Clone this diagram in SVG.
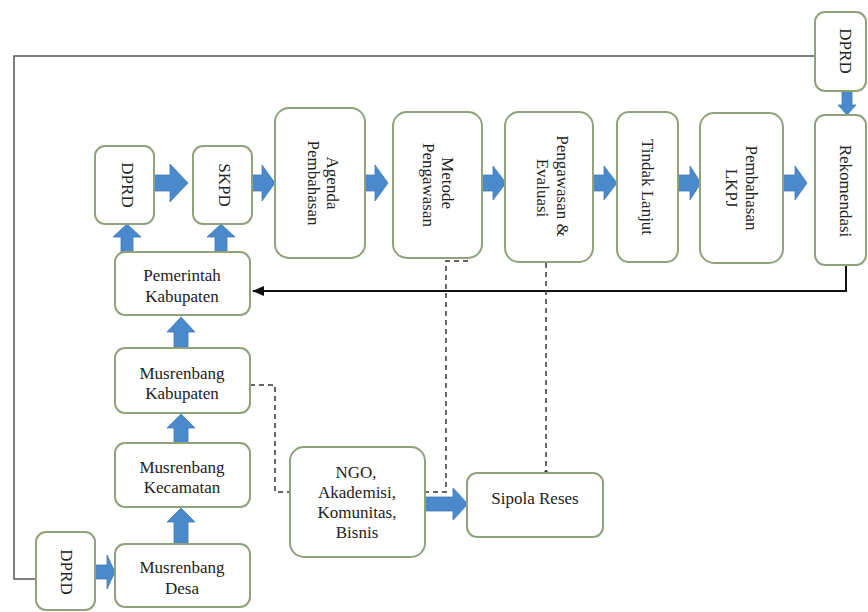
<svg xmlns="http://www.w3.org/2000/svg" width="868" height="612" viewBox="0 0 868 612">
<style>
.box{fill:#fff;stroke:#8fa37a;stroke-width:2}
.t{font-family:"Liberation Serif","Times New Roman",serif;font-size:17px;fill:#222;text-anchor:middle}
.v{dominant-baseline:central}
.ba{fill:#4a89cb;stroke:#3f7bbb;stroke-width:0.8}
.ln{fill:none;stroke:#555;stroke-width:1.5}
.fb{fill:none;stroke:#111;stroke-width:2}
.ds{fill:none;stroke:#333;stroke-width:1.5;stroke-dasharray:5 4}
</style>
<defs>
<marker id="ah" markerWidth="12" markerHeight="10" refX="11" refY="5" orient="auto" markerUnits="userSpaceOnUse">
<path d="M0,0 L12,5 L0,10 Z" fill="#111"/>
</marker>
</defs>
<rect width="868" height="612" fill="#fff"/>

<g id="connectors">
<path class="ln" d="M36 579 H14 V56 H815"/>
<path class="fb" d="M846 265 V291 H253" marker-end="url(#ah)"/>
<path class="ds" d="M250 385 H275 V492 H290"/>
<path class="ds" d="M468 261 H446 V492 H425"/>
<path class="ds" d="M546 263 V472"/>
<circle cx="546" cy="472" r="1.8" fill="#333"/>
<!-- block arrows top row -->
<polygon class="ba" points="154,175 170,175 170,164 188,183 170,202 170,191 154,191"/>
<polygon class="ba" points="252,175 262,175 262,165 275,183 262,201 262,191 252,191"/>
<polygon class="ba" points="365,175 375,175 375,165 388,183 375,201 375,191 365,191"/>
<polygon class="ba" points="482,175 493,175 493,166 506,183 493,200 493,191 482,191"/>
<polygon class="ba" points="593,175 604,175 604,166 617,183 604,200 604,191 593,191"/>
<polygon class="ba" points="678,175 690,175 690,166 701,183 690,200 690,191 678,191"/>
<polygon class="ba" points="783,175 795,175 795,166 807,183 795,200 795,191 783,191"/>
<!-- vertical up arrows -->
<polygon class="ba" points="121,252 121,237 113,237 127,224 141,237 133,237 133,252"/>
<polygon class="ba" points="215,252 215,237 207,237 221,224 235,237 227,237 227,252"/>
<polygon class="ba" points="174,348 174,332 167,332 181,317 195,332 188,332 188,348"/>
<polygon class="ba" points="174,443 174,428 167,428 181,414 195,428 188,428 188,443"/>
<polygon class="ba" points="174,544 174,522 167,522 181,508 195,522 188,522 188,544"/>
<!-- DPRD top right down -->
<polygon class="ba" points="842,91 852,91 852,105 856,105 847,115 838,105 842,105"/>
<!-- DPRD bottom to Musrenbang Desa -->
<polygon class="ba" points="95,565 107,565 107,555 115,572 107,589 107,579 95,579"/>
<!-- NGO to Sipola -->
<polygon class="ba" points="425,497 453,497 453,488 468,504 453,520 453,511 425,511"/>
</g>

<g id="dprd-top"><rect class="box" x="95" y="146" width="59" height="78" rx="10"/>
<text class="t v" transform="translate(127,185) rotate(90)">DPRD</text></g>
<g id="skpd"><rect class="box" x="193" y="146" width="59" height="78" rx="10"/>
<text class="t v" transform="translate(224,185) rotate(90)">SKPD</text></g>
<g id="agenda"><rect class="box" x="275" y="108" width="90" height="150" rx="14"/>
<text class="t v" transform="translate(332,183) rotate(90)">Agenda</text>
<text class="t v" transform="translate(313,183) rotate(90)">Pembahasan</text></g>
<g id="metode"><rect class="box" x="393" y="112" width="89" height="146" rx="14"/>
<text class="t v" transform="translate(447,183) rotate(90)">Metode</text>
<text class="t v" transform="translate(428,185) rotate(90)">Pengawasan</text></g>
<g id="pengawasan"><rect class="box" x="505" y="112" width="88" height="150" rx="14"/>
<text class="t v" transform="translate(562,186) rotate(90)">Pengawasan &amp;</text>
<text class="t v" transform="translate(542,188) rotate(90)">Evaluasi</text></g>
<g id="tindak"><rect class="box" x="617" y="112" width="61" height="150" rx="12"/>
<text class="t v" transform="translate(647,187) rotate(90)">Tindak Lanjut</text></g>
<g id="lkpj"><rect class="box" x="700" y="113" width="83" height="150" rx="14"/>
<text class="t v" transform="translate(751,188) rotate(90)">Pembahasan</text>
<text class="t v" transform="translate(731,188) rotate(90)">LKPJ</text></g>
<g id="rekomendasi"><rect class="box" x="815" y="115" width="51" height="150" rx="10"/>
<text class="t v" transform="translate(845,191) rotate(90)">Rekomendasi</text></g>
<g id="dprd-right"><rect class="box" x="815" y="12" width="51" height="79" rx="10"/>
<text class="t v" transform="translate(845,51) rotate(90)">DPRD</text></g>

<g id="pemerintah"><rect class="box" x="115" y="252" width="135" height="63" rx="10"/>
<text class="t" x="182" y="281">Pemerintah</text>
<text class="t" x="182" y="302">Kabupaten</text></g>
<g id="musrenbang-kab"><rect class="box" x="115" y="348" width="135" height="65" rx="10"/>
<text class="t" x="182" y="379">Musrenbang</text>
<text class="t" x="182" y="399">Kabupaten</text></g>
<g id="musrenbang-kec"><rect class="box" x="115" y="443" width="135" height="64" rx="10"/>
<text class="t" x="182" y="473">Musrenbang</text>
<text class="t" x="182" y="493">Kecamatan</text></g>
<g id="musrenbang-desa"><rect class="box" x="115" y="544" width="135" height="63" rx="10"/>
<text class="t" x="182" y="573">Musrenbang</text>
<text class="t" x="182" y="594">Desa</text></g>
<g id="dprd-bottom"><rect class="box" x="36" y="532" width="59" height="78" rx="10"/>
<text class="t v" transform="translate(66,572) rotate(90)">DPRD</text></g>
<g id="ngo"><rect class="box" x="290" y="447" width="135" height="110" rx="14"/>
<text class="t" x="356" y="478">NGO,</text>
<text class="t" x="357" y="498">Akademisi,</text>
<text class="t" x="357" y="518">Komunitas,</text>
<text class="t" x="357" y="538">Bisnis</text></g>
<g id="sipola"><rect class="box" x="467" y="473" width="136" height="64" rx="10"/>
<text class="t" x="535" y="504">Sipola Reses</text></g>
</svg>
